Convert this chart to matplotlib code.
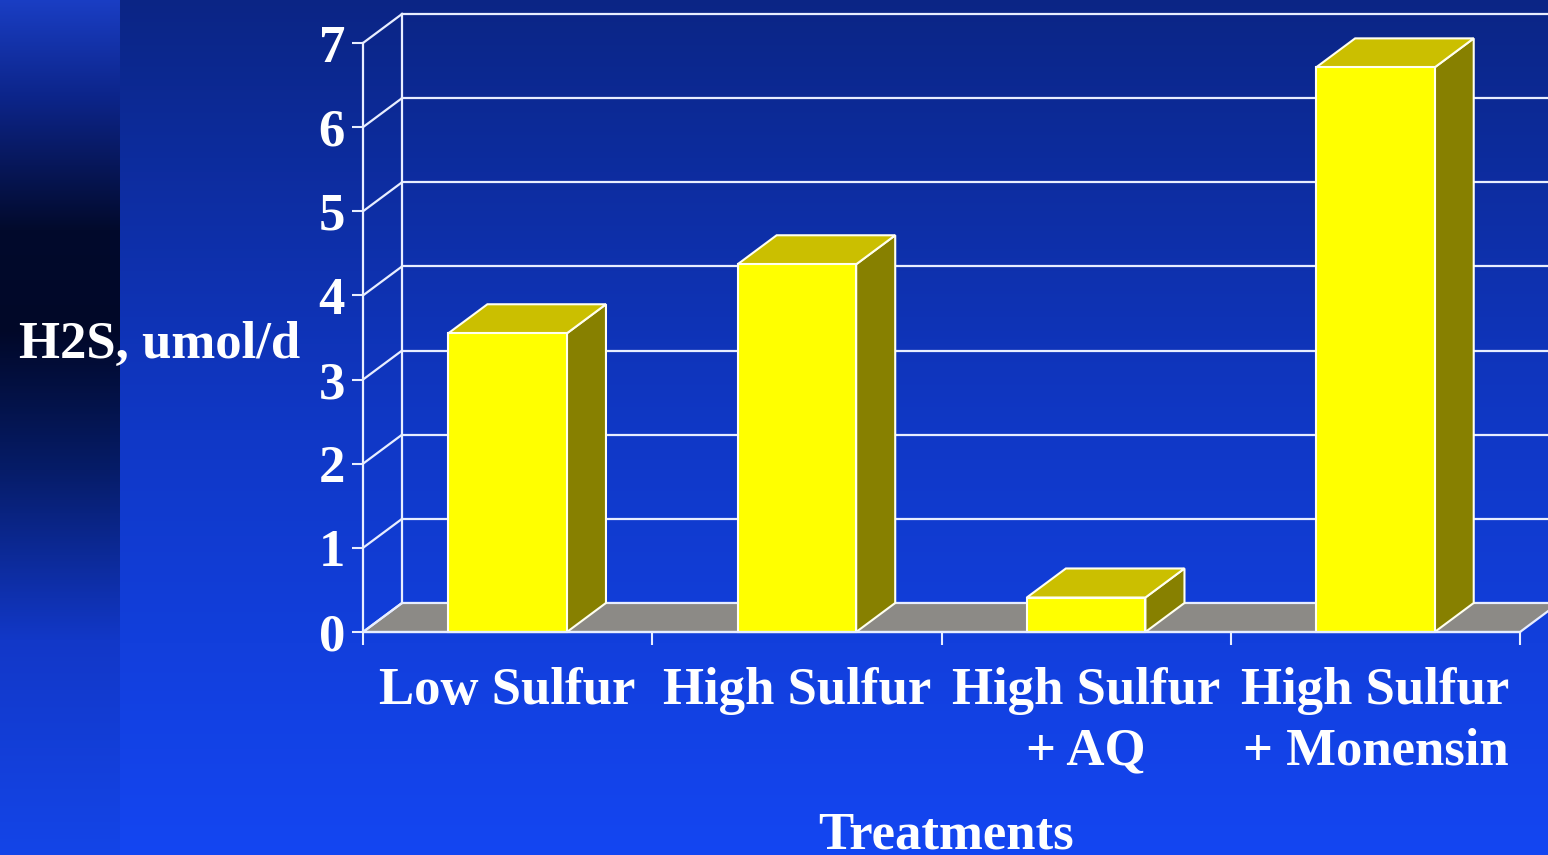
import numpy as np
import matplotlib
matplotlib.use('Agg')
import matplotlib.pyplot as plt
from matplotlib.patches import Polygon
from matplotlib.colors import to_rgb

# dados do gráfico
treatments = ['Low Sulfur', 'High Sulfur', 'High Sulfur\n+ AQ', 'High Sulfur\n+ Monensin']
h2s = [3.55, 4.37, 0.41, 6.71]
y_ticks = [0, 1, 2, 3, 4, 5, 6, 7]

plt.rcParams['font.family'] = 'Liberation Serif'
plt.rcParams['font.weight'] = 'bold'

W, H = 1548, 855
fig = plt.figure(figsize=(W / 100, H / 100), dpi=100)

# fundo em degradê (faixa da esquerda + área principal)
def gradient(stops, colors, n):
    y = np.arange(n)
    cols = np.array([to_rgb(c) for c in colors])
    return np.stack([np.interp(y, stops, cols[:, i]) for i in range(3)], axis=1)

main = gradient([0, 430, 855], ['#0b2585', '#1038c6', '#1446f2'], H)
strip = gradient([0, 100, 230, 330, 470, 640, 855],
                 ['#1a3ec4', '#0c2488', '#020a2c', '#010828', '#061c68', '#1238c8', '#1445e8'], H)
img = np.repeat(main[:, None, :], W, axis=1)
img[:, :120, :] = strip[:, None, :]

bg = fig.add_axes([0, 0, 1, 1], zorder=0)
bg.imshow(img, aspect='auto', extent=[0, 1, 0, 1])
bg.axis('off')

ax = fig.add_axes([363 / W, 223 / H, 1157 / W, 589 / H], zorder=1)
ax.patch.set_visible(False)
ax.set_xlim(0, 4)
ax.set_ylim(0, 7)

dx, dy = 0.135, 0.345   # deslocamento de profundidade (efeito 3D)
line_c = '#e8eeff'
n = len(treatments)

# piso
floor = Polygon([(0, 0), (n, 0), (n + dx, dy), (dx, dy)], closed=True,
                facecolor='#8c8a86', edgecolor=line_c, lw=1.6, clip_on=False, zorder=1)
ax.add_patch(floor)

# parede lateral e parede do fundo
for k in y_ticks:
    ax.plot([0, dx], [k, k + dy], color=line_c, lw=1.6, clip_on=False, zorder=2)
    if k > 0:
        ax.plot([dx, n + dx], [k + dy, k + dy], color=line_c, lw=1.6, clip_on=False, zorder=2)
ax.plot([dx, dx], [dy, 7 + dy], color=line_c, lw=1.6, clip_on=False, zorder=2)

# barras 3D
bw = 0.41
for i, v in enumerate(h2s):
    x0 = i + 0.5 - bw / 2
    x1 = x0 + bw
    ec = '#fffff0'
    side = Polygon([(x1, 0), (x1 + dx, dy), (x1 + dx, v + dy), (x1, v)],
                   facecolor='#878000', edgecolor=ec, lw=1.5, clip_on=False, zorder=3)
    top = Polygon([(x0, v), (x1, v), (x1 + dx, v + dy), (x0 + dx, v + dy)],
                  facecolor='#cbbf00', edgecolor=ec, lw=1.5, clip_on=False, zorder=3)
    front = Polygon([(x0, 0), (x1, 0), (x1, v), (x0, v)],
                    facecolor='#ffff00', edgecolor=ec, lw=1.5, clip_on=False, zorder=4)
    for p in (side, top, front):
        ax.add_patch(p)

# eixos
for s in ['top', 'right']:
    ax.spines[s].set_visible(False)
for s in ['left', 'bottom']:
    ax.spines[s].set_color(line_c)
    ax.spines[s].set_linewidth(1.6)
    ax.spines[s].set_zorder(5)

fs = 38
ax.set_yticks(y_ticks)
ax.set_yticklabels([str(t) for t in y_ticks])
ax.tick_params(axis='y', colors=line_c, labelcolor='white', labelsize=fs,
               length=8, width=1.5, pad=5)

ax.set_xticks(np.arange(n) + 0.5)
ax.set_xticklabels(treatments)
ax.set_xticks(np.arange(n + 1), minor=True)
ax.tick_params(axis='x', which='major', length=0, labelcolor='white', labelsize=fs, pad=25)
ax.tick_params(axis='x', which='minor', length=9, width=1.5, colors=line_c)
for lab in ax.get_xticklabels():
    lab.set_multialignment('center')
    lab.set_linespacing(1.35)

ax.set_xlabel('Treatments', color='white', fontsize=fs, fontweight='bold', va='center')
ax.xaxis.set_label_coords((946 - 363) / 1157, (632 - 835) / 589)
ax.set_ylabel('H2S, umol/d', color='white', fontsize=fs, fontweight='bold',
              rotation=0, ha='center', va='center')
ax.yaxis.set_label_coords(-0.1755, 0.487)

plt.savefig('out.png', dpi=100)
